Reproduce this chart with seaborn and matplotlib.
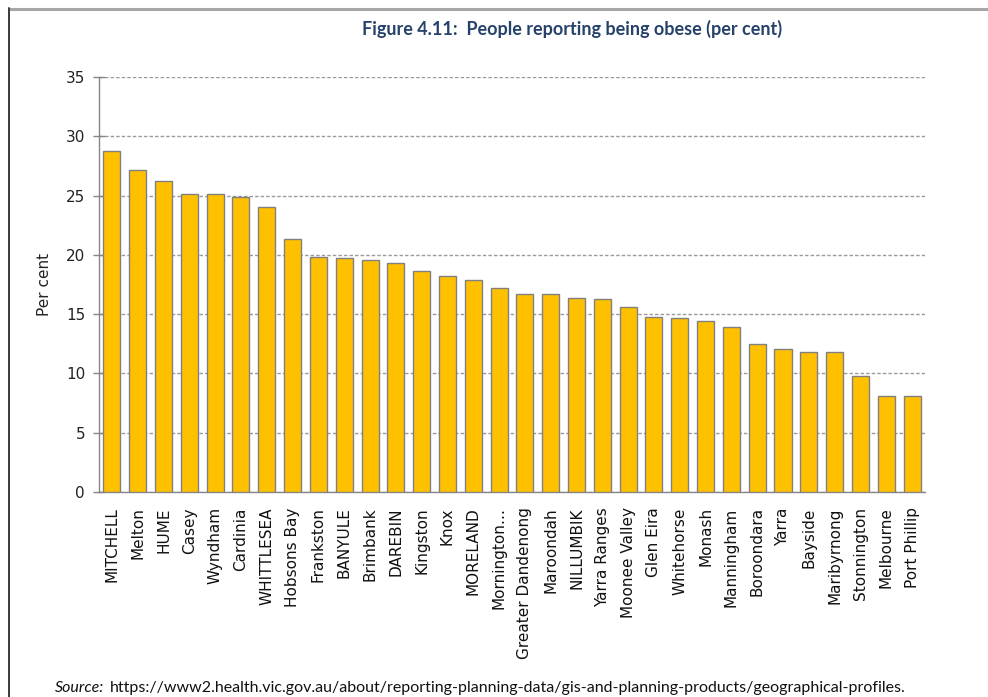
import numpy as np
import pandas as pd
import matplotlib
matplotlib.use("Agg")
import matplotlib.pyplot as plt
from matplotlib.lines import Line2D
import seaborn as sns

# Local government areas, ordered by share of people reporting obesity
areas = [
    "MITCHELL", "Melton", "HUME", "Casey", "Wyndham", "Cardinia", "WHITTLESEA",
    "Hobsons Bay", "Frankston", "BANYULE", "Brimbank", "DAREBIN", "Kingston",
    "Knox", "MORELAND", "Mornington…", "Greater Dandenong", "Maroondah",
    "NILLUMBIK", "Yarra Ranges", "Moonee Valley", "Glen Eira", "Whitehorse",
    "Monash", "Manningham", "Boroondara", "Yarra", "Bayside", "Maribyrnong",
    "Stonnington", "Melbourne", "Port Phillip",
]
obese_pct = [
    28.8, 27.2, 26.2, 25.1, 25.1, 24.9, 24.0,
    21.3, 19.8, 19.7, 19.6, 19.3, 18.6,
    18.2, 17.9, 17.2, 16.7, 16.7,
    16.4, 16.3, 15.6, 14.8, 14.7,
    14.4, 13.9, 12.5, 12.1, 11.8, 11.8,
    9.8, 8.1, 8.1,
]
y_ticks = [0, 5, 10, 15, 20, 25, 30, 35]

df = pd.DataFrame({"area": areas, "pct": obese_pct})

sns.set_theme(style="white")
plt.rcParams["font.family"] = ["DejaVu Sans"]

fig = plt.figure(figsize=(9.88, 6.97), dpi=100)
ax = fig.add_axes([0.1002, 0.2941, 0.8360, 0.5954])

sns.barplot(data=df, x="area", y="pct", ax=ax, color="#FFC000",
            saturation=1, width=0.66, edgecolor="#808080", linewidth=1.0,
            zorder=3)

axis_grey = "#868686"
ax.set_ylim(0, 35)
ax.set_xlim(-0.5, len(areas) - 0.5)
ax.set_yticks(y_ticks)
ax.set_yticklabels([str(t) for t in y_ticks], fontsize=11, color="#222222")
ax.yaxis.grid(True, linestyle=(0, (2.5, 1.5)), color="#9A9A9A", linewidth=1.0,
              zorder=0)
ax.xaxis.grid(False)

ax.set_xticks(range(len(areas)))
ax.set_xticklabels(areas, rotation=90, fontsize=11, color="#111111")
ax.set_xticks(np.arange(-0.5, len(areas)), minor=True)
ax.tick_params(axis="x", which="major", length=0, pad=11)
ax.tick_params(axis="x", which="minor", length=6, color=axis_grey,
               direction="out", width=1)
ax.tick_params(axis="y", which="major", length=8, color=axis_grey,
               direction="inout", width=1, pad=6, left=True)

ax.set_xlabel("")
ax.set_ylabel("Per cent", fontsize=11, color="#222222", labelpad=10)

for side in ("top", "right"):
    ax.spines[side].set_visible(False)
for side in ("left", "bottom"):
    ax.spines[side].set_color(axis_grey)
    ax.spines[side].set_linewidth(1.0)

doc_fonts = ["Lato", "Liberation Sans", "DejaVu Sans"]
fig.text(0.579, 0.958, "Figure 4.11:  People reporting being obese (per cent)",
         ha="center", va="center", fontsize=13, fontweight="bold",
         color="#26426A", family=doc_fonts)

fig.text(0.056, 0.013, "Source:", ha="left", va="center", fontsize=11.5,
         style="italic", color="#111111", family=doc_fonts)
fig.text(0.111, 0.013,
         "https://www2.health.vic.gov.au/about/reporting-planning-data/gis-and-planning-products/geographical-profiles.",
         ha="left", va="center", fontsize=11.5, color="#111111",
         family=doc_fonts)

# Frame lines along the top and left of the figure
fig.add_artist(Line2D([0.010, 1.0], [0.987, 0.987], color="#A6A6A6",
                      linewidth=2.2, transform=fig.transFigure))
fig.add_artist(Line2D([0.009, 0.009], [0.0, 0.988], color="#3A3A3A",
                      linewidth=1.4, transform=fig.transFigure))

fig.savefig("out.png", dpi=100, facecolor="white")
